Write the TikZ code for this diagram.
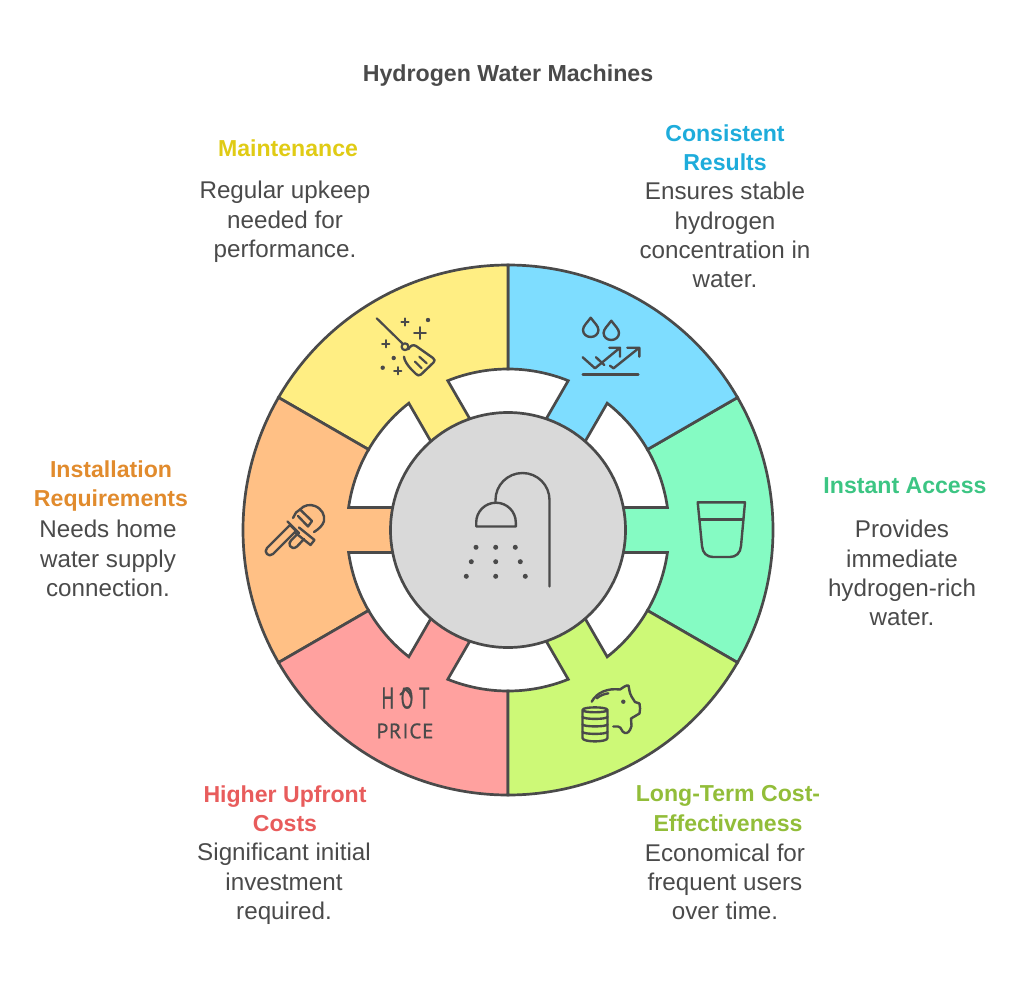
\documentclass[tikz,border=0pt]{standalone}
\usepackage{fontspec}
\setmainfont{Liberation Sans}
\newfontfamily\iconfont[LetterSpace=22,FakeStretch=0.62,FakeBold=0.7]{PT Sans}
\newfontfamily\iconfontb[LetterSpace=4,FakeBold=0.7]{PT Sans}
\definecolor{ink}{HTML}{4A4A4A}
\definecolor{hub}{HTML}{D9D9D9}
\definecolor{cblue}{HTML}{7EDDFF}
\definecolor{cyellow}{HTML}{FFEE83}
\definecolor{cmint}{HTML}{85FBC3}
\definecolor{clime}{HTML}{CDF977}
\definecolor{cred}{HTML}{FFA19F}
\definecolor{corange}{HTML}{FFC085}
\definecolor{tyellow}{HTML}{E0CB15}
\definecolor{tblue}{HTML}{1EACDB}
\definecolor{tmint}{HTML}{3CC583}
\definecolor{tlime}{HTML}{92BD39}
\definecolor{tred}{HTML}{E85C5C}
\definecolor{torange}{HTML}{E18B2D}
\tikzset{
  petal/.style={draw=ink,line width=2.7pt,miter limit=10,fill=#1},
  icon/.style={draw=ink,line width=2.4pt,line cap=round,line join=round},
  thin icon/.style={icon,line width=2.2pt},
  dotmark/.style={fill=ink,draw=none},
  headtext/.style={align=center,inner sep=0pt,font=\fontsize{23.1}{29.3}\selectfont\bfseries,text=#1},
  bodytext/.style={align=center,inner sep=0pt,font=\fontsize{24.2}{29.3}\selectfont,text=ink},
}
\newcommand{\petalat}[2]{%
  \draw[petal=#2,rotate=#1] (-30:265) arc[start angle=-30,end angle=30,radius=265]
    -- (30:161) arc[start angle=30,end angle=8.03,radius=161]
    -- (100,22.5) -- (100,-22.5)
    -- (-8.03:161) arc[start angle=-8.03,end angle=-30,radius=161] -- cycle;}
\newcommand{\sparkle}[3]{\draw[thin icon] (#1-#3,#2)--(#1+#3,#2) (#1,#2-#3)--(#1,#2+#3);}
\begin{document}
\begin{tikzpicture}[x=1pt,y=-1pt]
\useasboundingbox (0,0) rectangle (1024,987);
% wheel
\begin{scope}[shift={(508,530)},y=1pt]
  \petalat{0}{cmint}
  \petalat{60}{cblue}
  \petalat{120}{cyellow}
  \petalat{180}{corange}
  \petalat{240}{cred}
  \petalat{300}{clime}
  \node[circle,draw=ink,line width=2.7pt,fill=hub,minimum size=235pt,inner sep=0pt] (hubdisc) at (0,0) {};
\end{scope}
% shower
\draw[icon] (549.5,586.5) -- (549.5,500) arc[start angle=0,end angle=-180,radius=27] -- (495.5,502.7);
\draw[icon] (476.2,526.5) -- (476.2,522.5) arc[start angle=180,end angle=360,radius=19.8] -- (515.8,526.5) -- cycle;
\foreach \p in {(476,547.3),(495.7,547.3),(515.3,547.3),(471.3,561.7),(495.7,561.7),(520.3,561.7),(466.3,576.3),(495.7,576.3),(525.3,576.3)}
  \fill[dotmark] \p circle[radius=2.5];
% broom
\draw[thin icon] (376.7,318.3) -- (402.3,343.3);
\draw[thin icon] (405,346.7) circle[radius=3.4];
\draw[icon] (408.3,349.3) .. controls (410,346) and (413,344) .. (416,346) -- (433,358) .. controls (435,359.5) and (435,361) .. (433.5,362.5) -- (421,374.5) .. controls (419,376) and (417.5,375.5) .. (416,374) -- (411,369) .. controls (408,366) and (404,360) .. (404,356.7);
\draw[thin icon] (415,361.7) -- (421.7,368.3) (419.3,356.7) -- (426.7,363.3);
\sparkle{420}{333}{5.8}\sparkle{405}{322}{3.6}\sparkle{385.7}{343.7}{3.6}\sparkle{397.7}{370.7}{3.6}
\foreach \p in {(428,320),(393.7,358),(382.7,367.7)} \fill[dotmark] \p circle[radius=2.2];
% drops and arrows
\draw[icon] (590.7,317.7) .. controls (587,323) and (583,326) .. (583,330) .. controls (583,334) and (586.5,337) .. (590.7,337) .. controls (595,337) and (598.4,334) .. (598.4,330) .. controls (598.4,326) and (594.5,323) .. (590.7,317.7) -- cycle;
\draw[icon] (611.3,320.7) .. controls (607.6,326) and (603.6,329) .. (603.6,333) .. controls (603.6,337) and (607,340) .. (611.3,340) .. controls (615.6,340) and (619,337) .. (619,333) .. controls (619,329) and (615,326) .. (611.3,320.7) -- cycle;
\draw[icon] (582.7,357.3) -- (595,368.3) -- (620,347.7) (609.3,347.7) -- (620,347.7) -- (620,356.7);
\draw[icon] (596,357.3) -- (604.3,365);
\draw[icon] (610,365.7) -- (613.5,368.3) -- (639.3,347.7) (627.3,347.7) -- (639.3,347.7) -- (639.3,356.7);
\draw[icon] (582.7,374.3) -- (638.3,374.3);
% glass
\draw[icon] (697.7,502.3) -- (745,502.3) -- (741,546) .. controls (740.5,553) and (736,557) .. (730,557) -- (713,557) .. controls (707,557) and (702.5,553) .. (702,546) -- cycle;
\draw[icon] (699.5,519.3) -- (743.2,519.3);
% piggy and coins
\draw[icon] (582.5,710) .. controls (582.5,706.5) and (607.5,706.5) .. (607.5,710) .. controls (607.5,713) and (582.5,713) .. (582.5,710) -- (582.5,738) .. controls (582.5,742.5) and (607.5,742.5) .. (607.5,738) -- (607.5,710);
\draw[icon] (582.5,717) .. controls (584,719.5) and (606,719.5) .. (607.5,717) (582.5,724.5) .. controls (584,727) and (606,727) .. (607.5,724.5) (582.5,732) .. controls (584,734.5) and (606,734.5) .. (607.5,732);
\draw[icon] (591.7,701.7) .. controls (597,692) and (608,688) .. (620,689.5) .. controls (623,687.5) and (626,685) .. (628.5,685.5) .. controls (629.5,689) and (629,692) .. (631.5,696.5) -- (635,702) -- (639.5,703.5) .. controls (640.5,707) and (640,710) .. (639.5,713.5) -- (631,718.5) -- (631.5,726) .. controls (630,732) and (627,733.5) .. (625,733) .. controls (621,732) and (622,727) .. (618,726.5) -- (613.3,726.5);
\draw[icon] (596.7,698.3) .. controls (600,695.5) and (604,694) .. (608.3,693.3);
\fill[dotmark] (623.3,701.7) circle[radius=2.2];
% price tag words
\node[inner sep=0pt,font=\fontsize{30}{30}\iconfont,text=ink] (hotword) at (405.5,698) {HOT};
\draw[thin icon] (400.5,694.5) .. controls (403,693) and (404.5,691) .. (404,688.5) .. controls (408,691) and (410,693) .. (411,697);
\node[inner sep=0pt,font=\fontsize{21}{21}\iconfontb,text=ink] (priceword) at (405,731) {PRICE};
% wrench
\draw[icon] (267,548) -- (290,525) -- (296,531) -- (273,554) .. controls (270.5,556) and (268.5,555.5) .. (267,554) .. controls (265.5,552.5) and (265,550) .. (267,548) -- cycle;
\draw[icon] (287.5,521.5) -- (299,533);
\draw[icon] (293,518) -- (296,512.5) -- (300,509.5) -- (312,521) -- (308,526.5) -- (298,516);
\draw[icon] (300,509.5) .. controls (304,505) and (310,504) .. (315,506) .. controls (322,509) and (325,515) .. (324,521) .. controls (323,525) and (319,529) .. (314,532);
\draw[icon] (299,527.5) -- (314.5,540) -- (310.5,545) -- (295,532.5);
\draw[icon] (304,539) -- (297,546.5) .. controls (294,549) and (291,548) .. (290,546) .. controls (289,544) and (289.5,542) .. (291,540.5) -- (296.5,535);
% title
\node[inner sep=0pt,font=\fontsize{23.2}{25}\selectfont\bfseries,text=ink] (title) at (508,75.5) {Hydrogen Water Machines};
% labels
\node[headtext=tyellow] (maintH) at (288,148) {Maintenance};
\node[bodytext] (maintB) at (285,222) {Regular upkeep\\needed for\\performance.};
\node[headtext=tblue] (consH) at (725,147.5) {Consistent\\Results};
\node[bodytext] (consB) at (725,235) {Ensures stable\\hydrogen\\concentration in\\water.};
\node[headtext=tmint] (instH) at (905,486) {Instant Access};
\node[bodytext] (instB) at (902,573) {Provides\\immediate\\hydrogen-rich\\water.};
\node[headtext=torange] (instlH) at (111,486) {Installation\\Requirements};
\node[bodytext] (instlB) at (108,558.5) {Needs home\\water supply\\connection.};
\node[headtext=tred] (highH) at (285,808.5) {Higher Upfront\\Costs};
\node[bodytext] (highB) at (284,884) {Significant initial\\investment\\required.};
\node[headtext=tlime] (longH) at (728,808.5) {Long-Term Cost-\\Effectiveness};
\node[bodytext] (longB) at (725,882) {Economical for\\frequent users\\over time.};
\end{tikzpicture}
\end{document}
